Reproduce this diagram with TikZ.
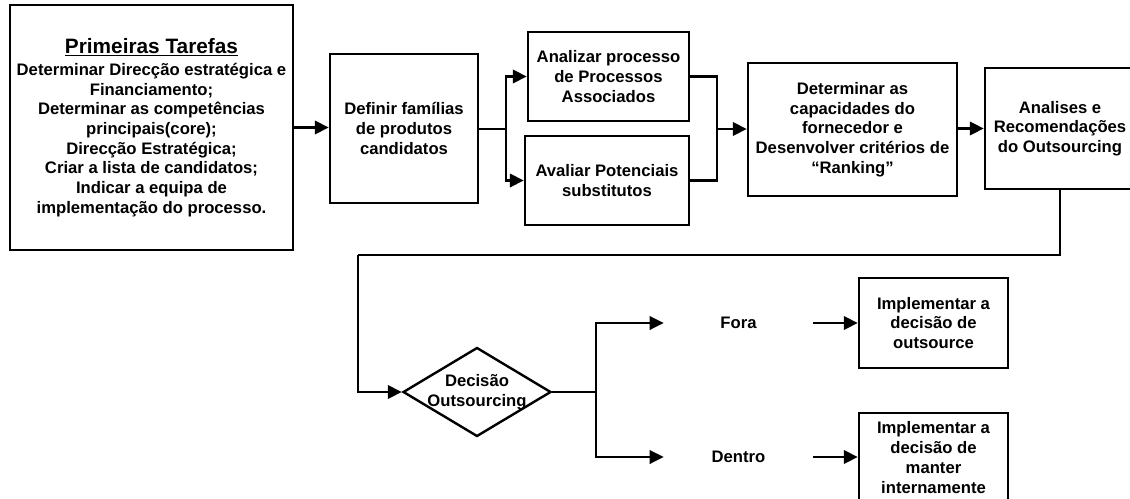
\documentclass[tikz,border=0pt]{standalone}
\usepackage{fontspec}
\setmainfont{Liberation Sans}
\usetikzlibrary{arrows.meta,shapes.geometric}
\begin{document}
\begin{tikzpicture}[x=0.75pt,y=-0.75pt,
  every node/.style={font=\fontsize{12.5}{14.8}\selectfont\bfseries, align=center, inner sep=0pt},
  procbox/.style={draw, line width=1.8pt, rectangle},
  plainlabel/.style={rectangle},
  decbox/.style={draw, line width=1.8pt, diamond, inner sep=0pt},
  conn/.style={line width=1.8pt},
  arr/.style={line width=1.8pt, -{Triangle[length=10.5pt,width=10pt]}}]
\clip (0,0) rectangle (1130,499);
\fill[white] (0,0) rectangle (1130,499);

\node[procbox, minimum width=212.25pt, minimum height=183.75pt] (b1) at (151.5,127.5)
  {{\fontsize{15.6}{18}\selectfont\underline{Primeiras Tarefas}}\\[1.8pt]
   Determinar Direcção estratégica e\\ Financiamento;\\ Determinar as competências\\
   principais(core);\\ Direcção Estratégica;\\ Criar a lista de candidatos;\\
   Indicar a equipa de\\ implementação do processo.};
\node[procbox, minimum width=111pt, minimum height=111.75pt] (b2) at (404,128.5)
  {Definir famílias\\ de produtos\\ candidatos};
\node[procbox, minimum width=120.75pt, minimum height=66.75pt] (b3) at (608.5,76.5)
  {Analizar processo\\ de Processos\\ Associados};
\node[procbox, minimum width=123pt, minimum height=66.75pt] (b4) at (607,180.5)
  {Avaliar Potenciais\\ substitutos};
\node[procbox, minimum width=156.75pt, minimum height=99.75pt] (b5) at (852.5,129.5)
  {Determinar as\\ capacidades do\\ fornecedor e\\ Desenvolver critérios de\\ “Ranking”};
\node[procbox, minimum width=112.5pt, minimum height=90.75pt] (b6) at (1060,128.5)
  {Analises e\\ Recomendações\\ do Outsourcing};
\node[decbox, minimum width=111pt, minimum height=66.75pt] (dec) at (477,392) {};
\node (dectext) at (477,392) {Decisão\\ Outsourcing};
\node[plainlabel, minimum width=111.75pt, minimum height=14pt] (fora) at (738.5,323) {Fora};
\node[plainlabel, minimum width=111.75pt, minimum height=14pt] (dentro) at (738.5,457) {Dentro};
\node[procbox, minimum width=111.75pt, minimum height=67.5pt] (b7) at (933.5,323)
  {Implementar a\\ decisão de\\ outsource};
\node[procbox, minimum width=111.75pt, minimum height=66.75pt] (b8) at (933.5,457.5)
  {Implementar a\\ decisão de\\ manter\\ internamente};

\coordinate (s1) at (506,129);
\coordinate (m1) at (717,129);
\coordinate (c1) at (1060,255);
\coordinate (c2) at (358,255);
\coordinate (s2) at (596,392);

\draw[arr] (b1.east) -- (b1.east -| b2.west);
\draw[conn] (b2.east |- s1) -- (s1);
\draw[arr] (s1) |- (b3.west);
\draw[arr] (s1) |- (b4.west);
\draw[conn] (b3.east) -| (m1);
\draw[conn] (b4.east) -| (m1);
\draw[arr] (m1) -- (m1 -| b5.west);
\draw[arr] (b5.east |- b6.west) -- (b6.west);
\draw[conn] (b6.south) -- (c1) -- (c2);
\draw[arr] (c2) |- (dec.west);
\draw[conn] (dec.east) -- (s2);
\draw[arr] (s2) |- (fora.west);
\draw[arr] (s2) |- (dentro.west);
\draw[arr] (fora.east) -- (b7.west);
\draw[arr] (dentro.east) -- (b8.west |- dentro.east);
\end{tikzpicture}
\end{document}
